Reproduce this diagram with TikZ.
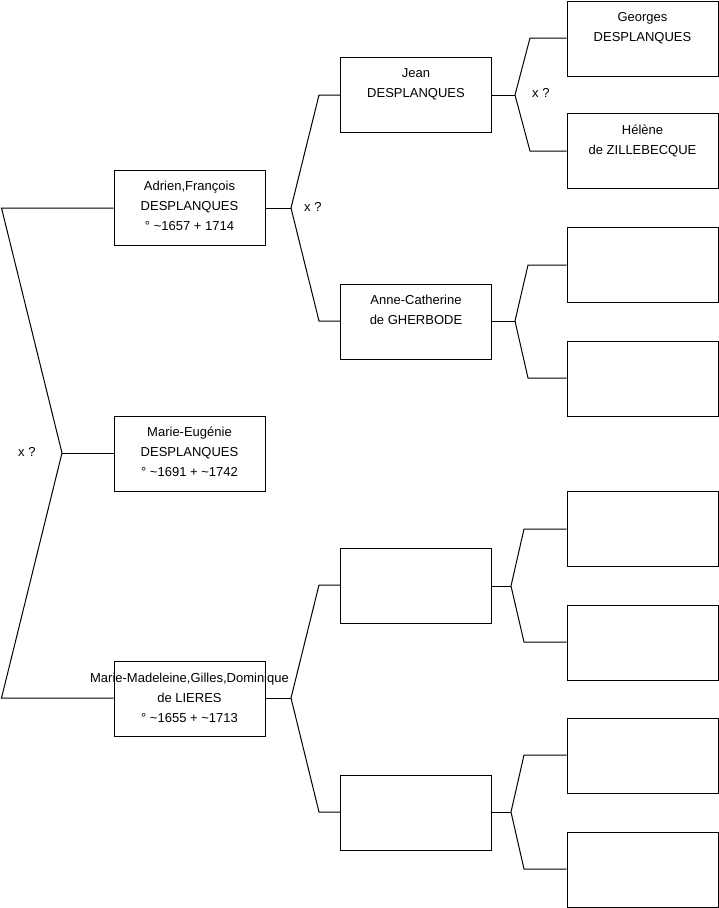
\documentclass[tikz,border=0pt]{standalone}
\usepackage{fontspec}
\setmainfont{Liberation Sans}
\begin{document}
\begin{tikzpicture}[x=1pt,y=-1pt,
  pbox/.style={draw=black,line width=1pt,minimum width=151pt,minimum height=75pt,inner sep=0pt,fill=white},
  ptext/.style={anchor=north,inner sep=0pt,align=center,font=\fontsize{13}{20}\selectfont},
  conn/.style={draw=black,line width=1pt},
  xq/.style={anchor=west,inner sep=0pt,font=\fontsize{13}{15}\selectfont}]
\useasboundingbox (0,0) rectangle (719,908);
\newcommand{\st}{\rule{0pt}{10pt}}
% generation 0
\node[pbox] (adr) at (189.5,207.5) {};
\node[pbox] (meu) at (189.5,453.5) {};
\node[pbox] (mma) at (189.5,699) {};
% generation 1
\node[pbox] (jea) at (416,94.5) {};
\node[pbox] (ann) at (416,321.5) {};
\node[pbox] (e1) at (416,585.5) {};
\node[pbox] (e2) at (416,812.5) {};
% generation 2
\node[pbox] (geo) at (642.5,38.5) {};
\node[pbox] (hel) at (642.5,151) {};
\node[pbox] (g3) at (642.5,264.5) {};
\node[pbox] (g4) at (642.5,378.5) {};
\node[pbox] (g5) at (642.5,529) {};
\node[pbox] (g6) at (642.5,642.5) {};
\node[pbox] (g7) at (642.5,755.5) {};
\node[pbox] (g8) at (642.5,869.5) {};
% texts
\node[ptext] (adrt) at ([yshift=-11pt]adr.north) {\st Adrien,François\\DESPLANQUES\\° \textasciitilde1657 + 1714};
\node[ptext] (meut) at ([yshift=-11pt]meu.north) {\st Marie-Eugénie\\DESPLANQUES\\° \textasciitilde1691 + \textasciitilde1742};
\node[ptext] (mmat) at ([yshift=-11pt]mma.north) {\st Marie-Madeleine,Gilles,Dominique\\de LIERES\\° \textasciitilde1655 + \textasciitilde1713};
\node[ptext] (jeat) at ([yshift=-11pt]jea.north) {\st Jean\\DESPLANQUES};
\node[ptext] (annt) at ([yshift=-11pt]ann.north) {\st Anne-Catherine\\de GHERBODE};
\node[ptext] (geot) at ([yshift=-11pt]geo.north) {\st Georges\\DESPLANQUES};
\node[ptext] (helt) at ([yshift=-11pt]hel.north) {\st Hélène\\de ZILLEBECQUE};
% connector points
\coordinate (r1) at (1.5,208);
\coordinate (r2) at (1.5,698);
\coordinate (rj) at (62,453);
\coordinate (aj) at (291,208);
\coordinate (a1) at (319,95);
\coordinate (a2) at (319,321);
\coordinate (jj) at (515,95);
\coordinate (j1) at (530,38);
\coordinate (j2) at (530,151);
\coordinate (cj) at (515,321);
\coordinate (c1) at (528,265);
\coordinate (c2) at (528,378);
\coordinate (mj) at (291,698);
\coordinate (m1) at (319,585);
\coordinate (m2) at (319,812);
\coordinate (e1j) at (511,586);
\coordinate (e1a) at (524,529);
\coordinate (e1b) at (524,642);
\coordinate (e2j) at (511,812);
\coordinate (e2a) at (524,755);
\coordinate (e2b) at (524,869);
% connectors
\draw[conn] (adr.west |- r1) -- (r1) -- (rj) -- (r2) -- (mma.west |- r2);
\draw[conn] (rj) -- (meu.west |- rj);
\draw[conn] (adr.east |- aj) -- (aj);
\draw[conn] (jea.west |- a1) -- (a1) -- (aj) -- (a2) -- (ann.west |- a2);
\draw[conn] (jea.east |- jj) -- (jj);
\draw[conn] (geo.west |- j1) -- (j1) -- (jj) -- (j2) -- (hel.west |- j2);
\draw[conn] (ann.east |- cj) -- (cj);
\draw[conn] (g3.west |- c1) -- (c1) -- (cj) -- (c2) -- (g4.west |- c2);
\draw[conn] (mma.east |- mj) -- (mj);
\draw[conn] (e1.west |- m1) -- (m1) -- (mj) -- (m2) -- (e2.west |- m2);
\draw[conn] (e1.east |- e1j) -- (e1j);
\draw[conn] (g5.west |- e1a) -- (e1a) -- (e1j) -- (e1b) -- (g6.west |- e1b);
\draw[conn] (e2.east |- e2j) -- (e2j);
\draw[conn] (g7.west |- e2a) -- (e2a) -- (e2j) -- (e2b) -- (g8.west |- e2b);
% marriage labels
\node[xq] (x0) at (18,452) {x ?};
\node[xq] (x1) at (304,207) {x ?};
\node[xq] (x2) at (532,93) {x ?};
\end{tikzpicture}
\end{document}
